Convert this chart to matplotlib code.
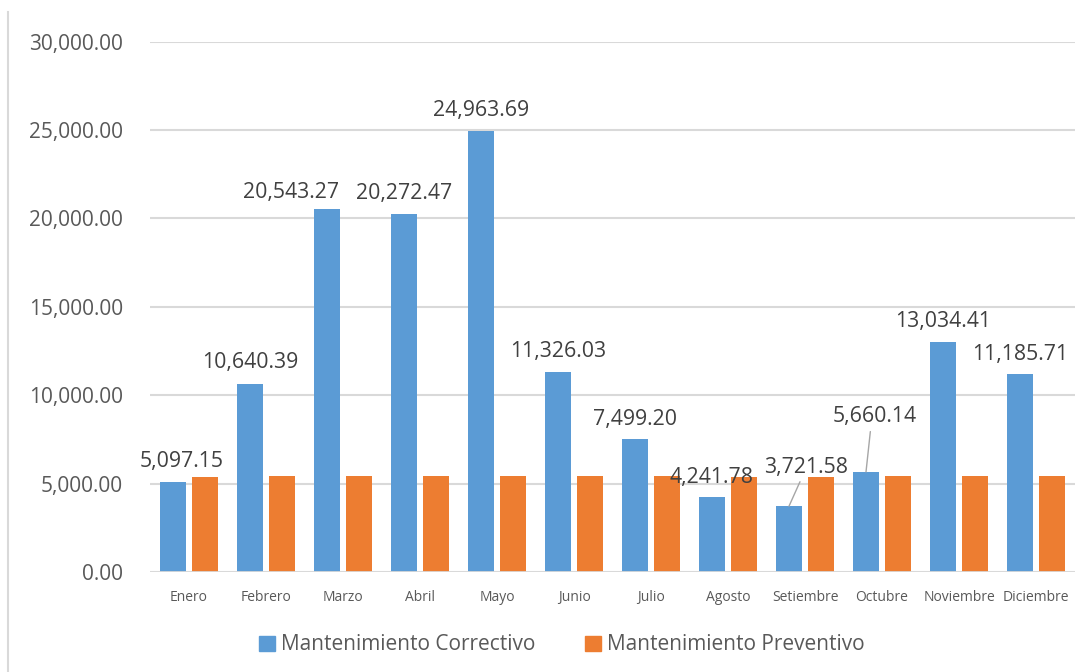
import numpy as np
import matplotlib.pyplot as plt
from matplotlib.lines import Line2D

plt.rcParams['font.family'] = ['Open Sans', 'DejaVu Sans']

meses = ['Enero', 'Febrero', 'Marzo', 'Abril', 'Mayo', 'Junio', 'Julio',
         'Agosto', 'Setiembre', 'Octubre', 'Noviembre', 'Diciembre']
correctivo = [5097.15, 10640.39, 20543.27, 20272.47, 24963.69, 11326.03,
              7499.20, 4241.78, 3721.58, 5660.14, 13034.41, 11185.71]
preventivo = [5350, 5420, 5420, 5420, 5420, 5420, 5420, 5350, 5350, 5420, 5420, 5420]

# label offsets in pixels (dx, dy) relative to the bar top
offsets = [(9, 20), (0, 21), (-36, 16), (0, 20), (0, 20), (0, 20),
           (0, 20), (0, 20), (17, 39), (9, 55), (0, 20), (0, 20)]
leader = [False] * 8 + [True, True, False, False]

azul = '#5B9BD5'
naranja = '#ED7D31'
gris = '#595959'

fig = plt.figure(figsize=(10.92, 6.72), dpi=100)
ax = fig.add_axes([0.1378, 0.1488, 0.8462, 0.7894])

x = np.arange(len(meses))
w = 0.338
ax.bar(x - 0.208, correctivo, w, color=azul, zorder=3)
ax.bar(x + 0.208, preventivo, w, color=naranja, zorder=3)

ax.set_xlim(-0.5, len(meses) - 0.5)
ax.set_ylim(0, 30000)
ax.set_yticks(np.arange(0, 30001, 5000))
ax.set_yticklabels([f'{v:,.2f}' for v in np.arange(0, 30001, 5000)],
                   fontsize=15, color=gris)
ax.set_xticks(x)
ax.set_xticklabels(meses, fontsize=10, color=gris)
ax.tick_params(axis='y', length=0, pad=20)
ax.tick_params(axis='x', length=0, pad=13)
ax.grid(axis='y', color='#d9d9d9', lw=1.5, zorder=0)
for s in ax.spines.values():
    s.set_visible(False)
ax.axhline(0, color='#d9d9d9', lw=2, zorder=4)

for i, v in enumerate(correctivo):
    dx, dy = offsets[i]
    kw = {}
    if leader[i]:
        kw['arrowprops'] = dict(arrowstyle='-', color='#a6a6a6', lw=1,
                                shrinkA=1, shrinkB=0, relpos=(0.45, 0.0))
    ax.annotate(f'{v:,.2f}', xy=(x[i] - 0.208, v), xytext=(dx, dy),
                textcoords='offset pixels', ha='center', va='center',
                fontsize=15.3, color='#404040', zorder=5, **kw)

# thin border line on the left of the picture
fig.add_artist(Line2D([8 / 1092, 8 / 1092], [0, 1 - 12 / 672],
                      color='#d9d9d9', lw=1.5))

handles = [plt.Rectangle((0, 0), 1, 1, color=azul),
           plt.Rectangle((0, 0), 1, 1, color=naranja)]
fig.legend(handles, ['Mantenimiento Correctivo', 'Mantenimiento Preventivo'],
           loc='center', bbox_to_anchor=(562 / 1092, 1 - 645 / 672), ncol=2,
           frameon=False, fontsize=15, handlelength=0.75, handleheight=0.75,
           handletextpad=0.3, columnspacing=2.4, labelcolor=gris)

fig.savefig('out.png', dpi=100)
